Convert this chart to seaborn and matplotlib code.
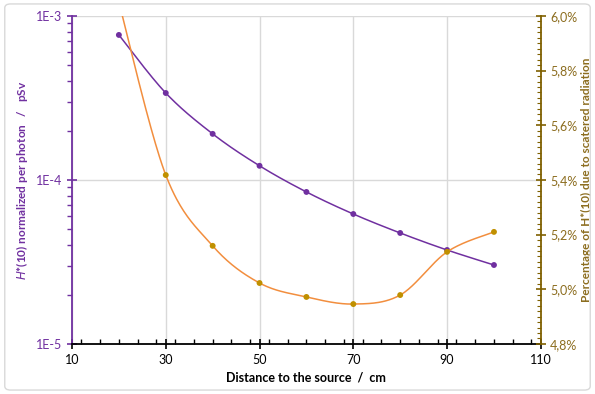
import numpy as np
import pandas as pd
import matplotlib
matplotlib.use("Agg")
import matplotlib.pyplot as plt
import matplotlib.ticker as mticker
from matplotlib.patches import FancyBboxPatch
import seaborn as sns

# ---- data ----
distance = [20, 30, 40, 50, 60, 70, 80, 90, 100]
h10 = [7.66e-4, 3.39e-4, 1.91e-4, 1.22e-4, 8.45e-5, 6.2e-5, 4.75e-5, 3.74e-5, 3.03e-5]
scatter_pct = [6.05, 5.418, 5.159, 5.023, 4.972, 4.946, 4.979, 5.137, 5.21]

PURPLE = "#7030A0"
ORANGE = "#F28E3E"
GOLD = "#C09000"
BROWN = "#7F6000"
BROWN_TXT = "#8C6D1F"


def catmull(xs, ys, n=40):
    P = np.column_stack([xs, ys]).astype(float)
    P = np.vstack([P[0], P, P[-1]])
    out = []
    for i in range(1, len(P) - 2):
        p0, p1, p2, p3 = P[i - 1], P[i], P[i + 1], P[i + 2]
        t = np.linspace(0, 1, n)[:, None]
        seg = 0.5 * ((2 * p1) + (-p0 + p2) * t + (2 * p0 - 5 * p1 + 4 * p2 - p3) * t ** 2
                     + (-p0 + 3 * p1 - 3 * p2 + p3) * t ** 3)
        out.append(seg)
    out = np.vstack(out)
    return out[:, 0], out[:, 1]


sns.set_theme(style="white")
plt.rcParams["font.family"] = ["Lato", "DejaVu Sans"]

fig = plt.figure(figsize=(5.95, 3.94), dpi=100)
fig.patches.append(FancyBboxPatch((0.008, 0.01), 0.984, 0.98, boxstyle="round,pad=0,rounding_size=0.01",
                                  transform=fig.transFigure, fill=False, edgecolor="#D9D9D9", lw=1))
ax = fig.add_axes([0.121, 0.127, 0.788, 0.8325])
ax2 = ax.twinx()

# purple series (log axis)
sx, sy = catmull(distance, np.log10(h10))
sns.lineplot(x=sx, y=10 ** sy, ax=ax, color=PURPLE, lw=1.1, sort=False, estimator=None)
sns.scatterplot(x=distance, y=h10, ax=ax, color=PURPLE, s=18, edgecolor="none", zorder=5)

# orange series
ox, oy = catmull(distance, scatter_pct)
sns.lineplot(x=ox, y=oy, ax=ax2, color=ORANGE, lw=1.1, sort=False, estimator=None)
sns.scatterplot(x=distance, y=scatter_pct, ax=ax2, color=GOLD, s=18, edgecolor="none", zorder=5)

ax.set_yscale("log")
ax.set_xlim(10, 110)
ax.set_ylim(1e-5, 1e-3)
ax2.set_ylim(4.8, 6.0)

ax.set_xticks([10, 30, 50, 70, 90, 110])
ax.xaxis.set_minor_locator(mticker.MultipleLocator(4))
ax.set_yticks([1e-5, 1e-4, 1e-3])
ax.set_yticklabels(["1E-5", "1E-4", "1E-3"])
ax.yaxis.set_minor_locator(mticker.LogLocator(base=10, subs=np.arange(2, 10)))
ax.yaxis.set_minor_formatter(mticker.NullFormatter())
ax2.set_yticks(np.arange(4.8, 6.01, 0.2))
ax2.set_yticklabels([f"{v:.1f}%".replace(".", ",") for v in np.arange(4.8, 6.01, 0.2)])
ax2.yaxis.set_minor_locator(mticker.MultipleLocator(0.02))

ax.grid(True, which="major", axis="both", color="#D9D9D9", lw=1)
ax.set_axisbelow(True)

for s in ["top", "right"]:
    ax.spines[s].set_visible(False)
ax2.spines["top"].set_visible(False)
ax2.spines["left"].set_visible(False)
ax2.spines["bottom"].set_visible(False)
ax.spines["left"].set_color(PURPLE)
ax.spines["left"].set_linewidth(1.3)
ax.spines["bottom"].set_color("black")
ax.spines["bottom"].set_linewidth(1.3)
ax2.spines["right"].set_color(BROWN)
ax2.spines["right"].set_linewidth(1.3)

ax.tick_params(axis="x", which="major", direction="inout", length=7, width=1.2, colors="black",
               labelsize=9, pad=4, bottom=True)
ax.tick_params(axis="x", which="minor", direction="in", length=3.5, width=1, color="black", bottom=True)
ax.tick_params(axis="y", which="major", direction="inout", length=7, width=1.2, color=PURPLE,
               labelcolor=PURPLE, labelsize=9, left=True)
ax.tick_params(axis="y", which="minor", direction="out", length=3.5, width=1, color=PURPLE, left=True)
ax2.tick_params(axis="y", which="major", direction="inout", length=7, width=1.2, color=BROWN,
                labelcolor=BROWN_TXT, labelsize=9, right=True, pad=3)
ax2.tick_params(axis="y", which="minor", direction="in", length=3, width=0.8, color=BROWN, right=True)

ax.set_xlabel("Distance to the source  /  cm", fontsize=9, fontweight="bold", color="black", labelpad=4)
ax.set_ylabel(r"$\it{H}$*(10) normalized per photon   /   pSv", fontsize=8.5, fontweight="bold",
              color=PURPLE, labelpad=4)
ax2.set_ylabel("Percentage of H*(10) due to scatered radiation", fontsize=8.5, fontweight="bold",
               color=BROWN_TXT, labelpad=3)

fig.savefig("out.png", dpi=100)
